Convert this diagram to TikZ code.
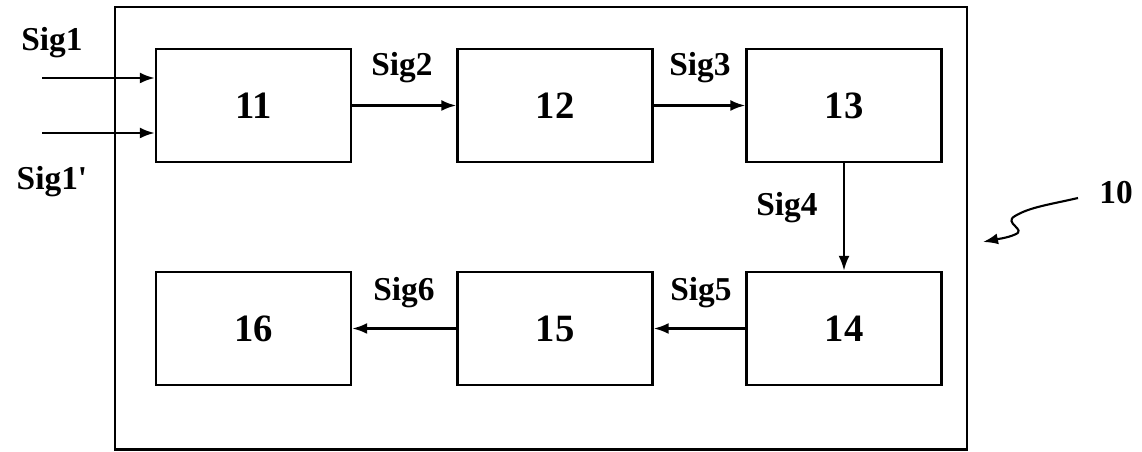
\documentclass[tikz,border=0pt]{standalone}
\usepackage{fontspec}
\setmainfont{Liberation Serif}
\usetikzlibrary{arrows.meta}
\tikzset{
  block/.style={draw, line width=1.4pt, minimum width=3.9cm, minimum height=2.26cm, font=\fontsize{22}{26}\selectfont\bfseries},
  sig/.style={font=\fontsize{19}{22}\selectfont\bfseries, inner sep=0pt},
  flow/.style={-{Latex[length=3mm,width=2.2mm]}, line width=1.3pt}
}
\begin{document}
\begin{tikzpicture}
\useasboundingbox (0,0) rectangle (22.84,9.04);
\draw[line width=1.6pt] (2.3,0.05) rectangle (19.34,8.9);
\node[block] (b11) at (5.07,6.93) {11};
\node[block] (b12) at (11.1,6.93) {12};
\node[block] (b13) at (16.88,6.93) {13};
\node[block] (b14) at (16.88,2.47) {14};
\node[block] (b15) at (11.1,2.47) {15};
\node[block] (b16) at (5.07,2.47) {16};
\coordinate (in1) at (0.84,7.48);
\coordinate (in2) at (0.84,6.38);
\draw[flow] (in1) -- (in1 -| b11.west);
\draw[flow] (in2) -- (in2 -| b11.west);
\draw[flow] (b11) -- (b12);
\draw[flow] (b12) -- (b13);
\draw[flow] (b13) -- (b14);
\draw[flow] (b14) -- (b15);
\draw[flow] (b15) -- (b16);
\node[sig] (s1) at (1.04,8.18) {Sig1};
\node[sig] (s1p) at (1.04,5.40) {Sig1\textquotesingle};
\node[sig] (s2) at (8.04,7.68) {Sig2};
\node[sig] (s3) at (14.0,7.68) {Sig3};
\node[sig] (s4) at (15.74,4.88) {Sig4};
\node[sig] (s5) at (14.02,3.18) {Sig5};
\node[sig] (s6) at (8.08,3.18) {Sig6};
\node[sig] (ten) at (22.32,5.18) {10};
\coordinate (tenfrom) at (21.56,5.08);
\coordinate (tento) at (19.66,4.2);
\draw[flow, line width=1.2pt] (tenfrom) .. controls (21.0,4.95) and (20.6,4.9) .. (20.3,4.72)
  .. controls (20.05,4.58) and (20.55,4.45) .. (20.3,4.35)
  .. controls (20.15,4.28) and (19.9,4.25) .. (tento);
\end{tikzpicture}
\end{document}
